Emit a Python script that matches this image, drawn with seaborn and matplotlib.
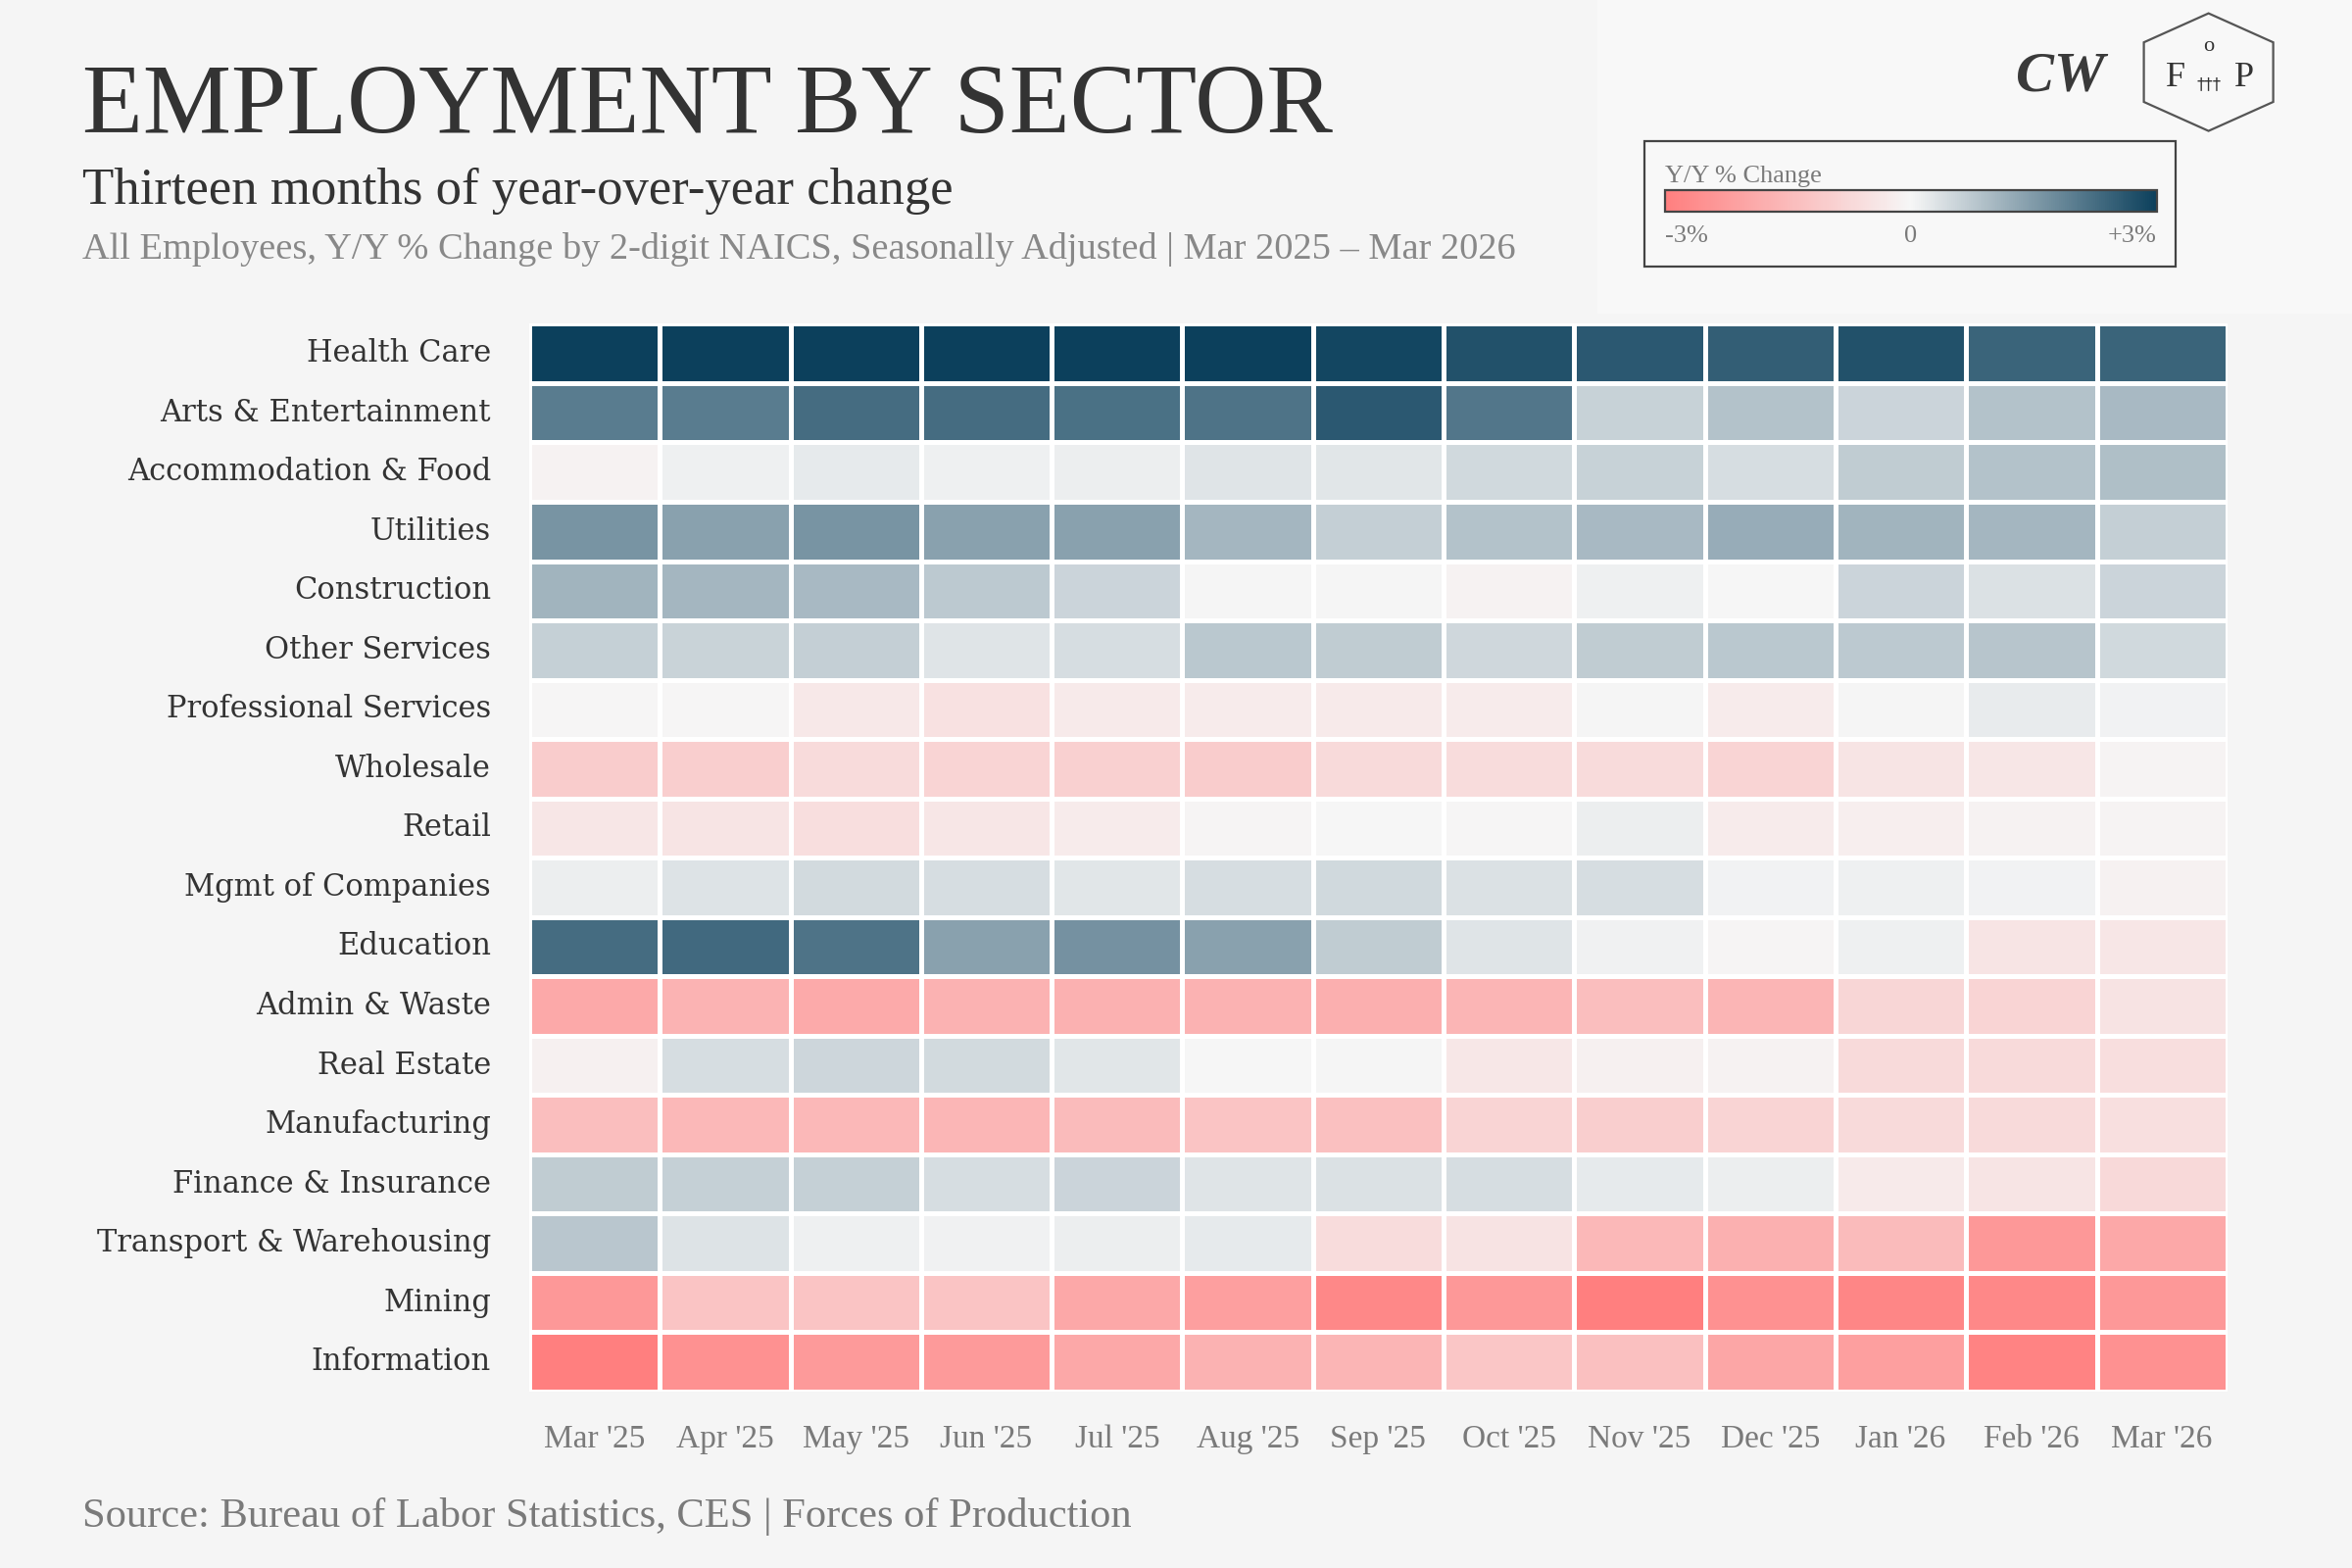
import numpy as np
import pandas as pd
import matplotlib
matplotlib.use("Agg")
import matplotlib.pyplot as plt
import seaborn as sns
from matplotlib.colors import LinearSegmentedColormap
from matplotlib.patches import Rectangle, Polygon

# ---- data (Y/Y % change) ----
months = ["Mar '25", "Apr '25", "May '25", "Jun '25", "Jul '25", "Aug '25", "Sep '25",
          "Oct '25", "Nov '25", "Dec '25", "Jan '26", "Feb '26", "Mar '26"]

sectors = ["Health Care", "Arts & Entertainment", "Accommodation & Food", "Utilities",
           "Construction", "Other Services", "Professional Services", "Wholesale",
           "Retail", "Mgmt of Companies", "Education", "Admin & Waste", "Real Estate",
           "Manufacturing", "Finance & Insurance", "Transport & Warehousing", "Mining",
           "Information"]

health_care = [3.4, 3.3, 3.3, 3.2, 3.2, 3.1, 2.9, 2.7, 2.6, 2.5, 2.7, 2.4, 2.4]
arts_ent = [2.0, 2.0, 2.25, 2.25, 2.2, 2.15, 2.6, 2.1, 0.6, 0.85, 0.55, 0.85, 1.0]
accom_food = [-0.1, 0.1, 0.2, 0.1, 0.12, 0.3, 0.28, 0.48, 0.6, 0.4, 0.7, 0.85, 0.9]
utilities = [1.6, 1.4, 1.6, 1.4, 1.4, 1.05, 0.64, 0.85, 1.0, 1.2, 1.1, 1.05, 0.65]
construction = [1.1, 1.05, 1.0, 0.73, 0.55, 0.0, 0.02, -0.1, 0.1, -0.02, 0.55, 0.35, 0.55]
other_services = [0.63, 0.58, 0.65, 0.3, 0.4, 0.75, 0.68, 0.5, 0.7, 0.75, 0.73, 0.8, 0.48]
prof_services = [-0.03, -0.04, -0.33, -0.53, -0.3, -0.27, -0.3, -0.27, 0.0, -0.27, 0.0, 0.18, 0.05]
wholesale = [-1.05, -1.0, -0.66, -0.86, -0.95, -1.05, -0.72, -0.64, -0.66, -0.86, -0.45, -0.4, -0.08]
retail = [-0.4, -0.45, -0.6, -0.42, -0.28, -0.06, -0.01, -0.04, 0.12, -0.28, -0.2, -0.1, -0.08]
mgmt_companies = [0.12, 0.32, 0.46, 0.4, 0.28, 0.4, 0.48, 0.33, 0.4, 0.06, 0.1, 0.06, -0.14]
education = [2.25, 2.3, 2.15, 1.4, 1.65, 1.4, 0.7, 0.3, 0.08, -0.05, 0.1, -0.45, -0.42]
admin_waste = [-1.93, -1.68, -1.9, -1.7, -1.72, -1.7, -1.8, -1.63, -1.4, -1.63, -0.8, -0.86, -0.48]
real_estate = [-0.15, 0.4, 0.53, 0.45, 0.27, -0.02, 0.0, -0.38, -0.15, -0.1, -0.72, -0.7, -0.6]
manufacturing = [-1.4, -1.55, -1.55, -1.6, -1.5, -1.25, -1.35, -0.85, -1.0, -0.86, -0.68, -0.68, -0.58]
finance_ins = [0.7, 0.62, 0.62, 0.4, 0.55, 0.3, 0.35, 0.4, 0.2, 0.12, -0.3, -0.45, -0.75]
transport_wh = [0.78, 0.32, 0.1, 0.08, 0.14, 0.2, -0.65, -0.48, -1.57, -1.75, -1.5, -2.36, -1.95]
mining = [-2.35, -1.25, -1.25, -1.25, -1.95, -2.2, -2.75, -2.35, -3.1, -2.55, -2.8, -2.75, -2.35]
information = [-3.0, -2.55, -2.3, -2.3, -1.95, -1.7, -1.63, -1.2, -1.35, -2.0, -2.2, -2.9, -2.55]

rows = [health_care, arts_ent, accom_food, utilities, construction, other_services,
        prof_services, wholesale, retail, mgmt_companies, education, admin_waste,
        real_estate, manufacturing, finance_ins, transport_wh, mining, information]

df = pd.DataFrame(rows, index=sectors, columns=months)

# ---- style ----
BG = "#F5F5F5"
DARK = "#333333"
GREY = "#7A7A7A"
SERIF = ["Liberation Serif", "DejaVu Serif"]

sns.set_theme(style="white")
plt.rcParams["font.family"] = SERIF
plt.rcParams["figure.facecolor"] = BG
plt.rcParams["axes.facecolor"] = BG

cmap = LinearSegmentedColormap.from_list("yy", ["#FF7F7F", "#F6F6F6", "#0C405C"])

fig = plt.figure(figsize=(12, 8), dpi=200)

# lighter panel behind the logos
fig.patches.append(Rectangle((0.679, 0.80), 0.321, 0.20, transform=fig.transFigure,
                             facecolor="#F8F8F8", edgecolor="none", zorder=-10))

ax = fig.add_axes([0.225, 0.1125, 0.722, 0.681])
cax = fig.add_axes([0.708, 0.865, 0.209, 0.0135])
cax.set_zorder(5)

sns.heatmap(df, ax=ax, cmap=cmap, vmin=-3, vmax=3, linewidths=1.8, linecolor="white",
            cbar=True, cbar_ax=cax, cbar_kws={"orientation": "horizontal"})

ax.tick_params(axis="both", length=0)
ax.tick_params(axis="y", pad=14)
ax.tick_params(axis="x", pad=12)
ax.set_yticklabels(sectors, rotation=0, fontsize=11, color=DARK, family="DejaVu Serif")
ax.set_xticklabels(months, rotation=0, fontsize=12, color=GREY)
ax.set_xlabel("")
ax.set_ylabel("")

# colorbar legend
cb = ax.collections[0].colorbar
cb.outline.set_edgecolor("#444444")
cb.outline.set_linewidth(0.8)
cb.set_ticks([-3, 0, 3])
cb.set_ticklabels(["-3%", "0", "+3%"])
cax.tick_params(length=0, labelsize=9.5, labelcolor=GREY, pad=5)
labs = cax.get_xticklabels()
labs[0].set_ha("left")
labs[2].set_ha("right")
cax.set_title("Y/Y % Change", loc="left", fontsize=9.5, color=GREY, pad=3)

fig.patches.append(Rectangle((0.699, 0.830), 0.226, 0.080, transform=fig.transFigure,
                             facecolor="none", edgecolor="#444444", linewidth=0.8,
                             zorder=6))

# titles
fig.text(0.035, 0.915, "EMPLOYMENT BY SECTOR", fontsize=36.5, color=DARK, va="baseline")
fig.text(0.035, 0.870, "Thirteen months of year-over-year change", fontsize=19,
         color=DARK, va="baseline")
fig.text(0.035, 0.835, "All Employees, Y/Y % Change by 2-digit NAICS, Seasonally Adjusted | "
         "Mar 2025 \u2013 Mar 2026", fontsize=13.8, color="#888888", va="baseline")
fig.text(0.035, 0.026, "Source: Bureau of Labor Statistics, CES | Forces of Production",
         fontsize=15.3, color=GREY, va="baseline")

# logos
fig.text(0.876, 0.951, "CW", fontsize=21, fontweight="bold", fontstyle="italic",
         color="#3A3A3A", ha="center", va="center")
cx, cy, hw, hh, hs = 0.939, 0.954, 0.0275, 0.0375, 0.019
hexagon = Polygon([(cx, cy + hh), (cx + hw, cy + hs), (cx + hw, cy - hs), (cx, cy - hh),
                   (cx - hw, cy - hs), (cx - hw, cy + hs)], closed=True,
                  transform=fig.transFigure, facecolor="none", edgecolor="#555555",
                  linewidth=0.8)
fig.patches.append(hexagon)
fig.text(cx - 0.014, cy - 0.004, "F", fontsize=13, color="#333333", ha="center", va="center")
fig.text(cx + 0.015, cy - 0.004, "P", fontsize=13, color="#333333", ha="center", va="center")
fig.text(cx, cy + 0.016, "o", fontsize=8, color="#333333", ha="center", va="center")
fig.text(cx, cy - 0.008, "\u2020\u2020\u2020", fontsize=6, color="#333333", ha="center",
         va="center", family="DejaVu Sans")

fig.savefig("out.png", dpi=200, facecolor=BG)
